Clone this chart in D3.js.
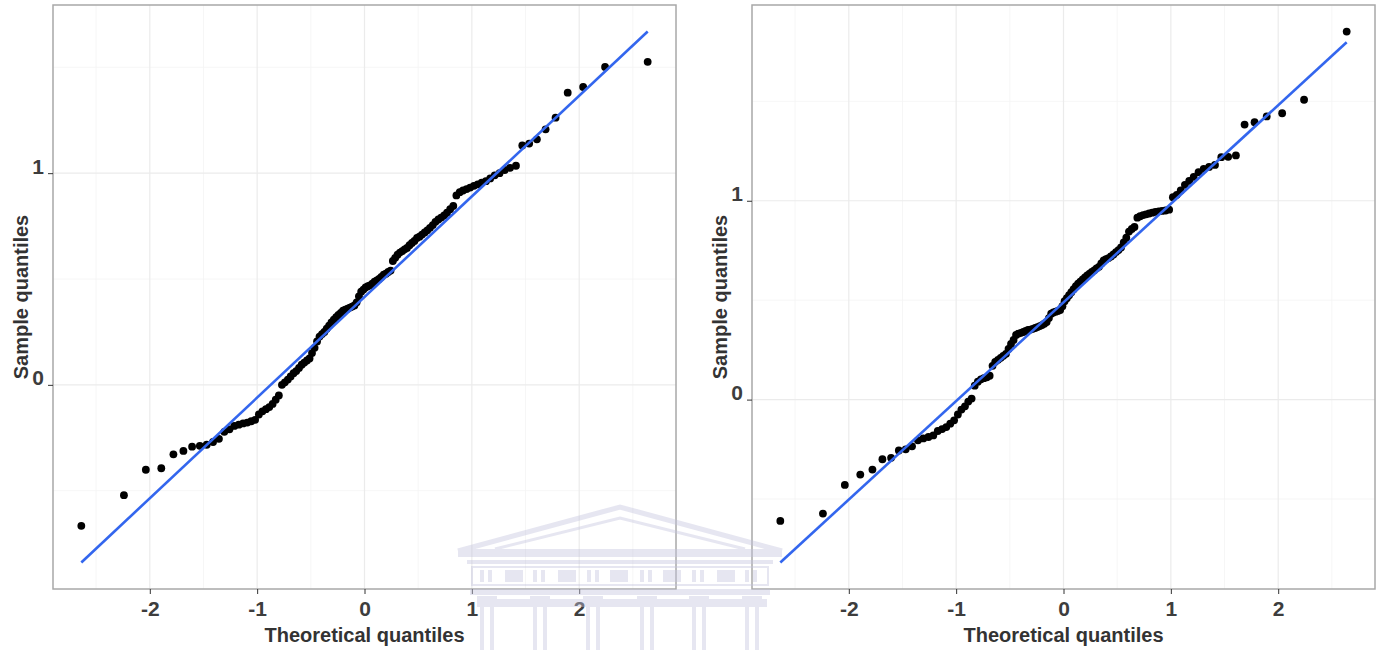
<!DOCTYPE html>
<html>
<head>
<meta charset="utf-8">
<script src="https://cdn.jsdelivr.net/npm/d3@7"></script>
<style>
  body { margin: 0; background: #fff; }
  svg { display: block; font-family: "Liberation Sans", Arial, sans-serif; }
  .axis-title { font-weight: bold; font-size: 20px; fill: #333; }
</style>
</head>
<body>
<svg id="qq" width="1385" height="650"></svg>
<script>
// theoretical normal quantiles, n = 120 (same for both panels)
const theoretical = [
  -2.638, -2.241, -2.037, -1.893, -1.780, -1.687, -1.606, -1.534, -1.470, -1.411,
  -1.356, -1.306, -1.258, -1.213, -1.171, -1.131, -1.092, -1.055, -1.019, -0.984,
  -0.951, -0.918, -0.887, -0.856, -0.827, -0.798, -0.769, -0.742, -0.714, -0.688,
  -0.661, -0.636, -0.610, -0.585, -0.561, -0.536, -0.512, -0.489, -0.465, -0.442,
  -0.419, -0.396, -0.374, -0.352, -0.330, -0.308, -0.286, -0.264, -0.243, -0.221,
  -0.200, -0.179, -0.157, -0.136, -0.115, -0.094, -0.073, -0.052, -0.031, -0.010,
  0.010, 0.031, 0.052, 0.073, 0.094, 0.115, 0.136, 0.157, 0.179, 0.200,
  0.221, 0.243, 0.264, 0.286, 0.308, 0.330, 0.352, 0.374, 0.396, 0.419,
  0.442, 0.465, 0.489, 0.512, 0.536, 0.561, 0.585, 0.610, 0.636, 0.661,
  0.688, 0.714, 0.742, 0.769, 0.798, 0.827, 0.856, 0.887, 0.918, 0.951,
  0.984, 1.019, 1.055, 1.092, 1.131, 1.171, 1.213, 1.258, 1.306, 1.356,
  1.411, 1.470, 1.534, 1.606, 1.687, 1.780, 1.893, 2.037, 2.241, 2.638
];

const sampleLeft = [
  -0.666, -0.521, -0.401, -0.394, -0.328, -0.312, -0.292, -0.288, -0.283, -0.270,
  -0.255, -0.222, -0.210, -0.194, -0.188, -0.182, -0.178, -0.172, -0.165, -0.140,
  -0.125, -0.115, -0.105, -0.090, -0.070, -0.050, 0.000, 0.012, 0.025, 0.040,
  0.055, 0.065, 0.080, 0.095, 0.105, 0.115, 0.125, 0.150, 0.175, 0.205,
  0.228, 0.240, 0.250, 0.265, 0.280, 0.295, 0.308, 0.320, 0.330, 0.340,
  0.350, 0.355, 0.360, 0.365, 0.370, 0.375, 0.390, 0.418, 0.440, 0.450,
  0.460, 0.466, 0.470, 0.478, 0.487, 0.493, 0.500, 0.510, 0.520, 0.525,
  0.533, 0.540, 0.585, 0.600, 0.615, 0.625, 0.632, 0.640, 0.647, 0.660,
  0.670, 0.680, 0.694, 0.700, 0.710, 0.720, 0.730, 0.742, 0.755, 0.770,
  0.781, 0.790, 0.800, 0.813, 0.830, 0.845, 0.895, 0.910, 0.918, 0.925,
  0.932, 0.940, 0.947, 0.955, 0.962, 0.975, 0.990, 1.000, 1.015, 1.025,
  1.035, 1.131, 1.140, 1.160, 1.207, 1.262, 1.380, 1.407, 1.502, 1.526
];

const sampleRight = [
  -0.610, -0.573, -0.429, -0.377, -0.352, -0.300, -0.293, -0.256, -0.250, -0.235,
  -0.205, -0.195, -0.188, -0.180, -0.158, -0.148, -0.138, -0.121, -0.104, -0.075,
  -0.050, -0.034, -0.010, 0.005, 0.070, 0.090, 0.102, 0.108, 0.112, 0.120,
  0.170, 0.190, 0.200, 0.210, 0.220, 0.230, 0.255, 0.280, 0.300, 0.325,
  0.332, 0.336, 0.340, 0.345, 0.350, 0.352, 0.356, 0.360, 0.365, 0.370,
  0.375, 0.382, 0.390, 0.410, 0.432, 0.438, 0.442, 0.446, 0.450, 0.470,
  0.495, 0.510, 0.525, 0.540, 0.555, 0.570, 0.583, 0.593, 0.605, 0.615,
  0.625, 0.633, 0.642, 0.650, 0.660, 0.668, 0.685, 0.700, 0.706, 0.712,
  0.720, 0.730, 0.742, 0.752, 0.765, 0.790, 0.814, 0.845, 0.858, 0.868,
  0.915, 0.922, 0.928, 0.932, 0.936, 0.940, 0.944, 0.947, 0.949, 0.951,
  0.955, 1.018, 1.030, 1.052, 1.080, 1.100, 1.120, 1.144, 1.160, 1.170,
  1.180, 1.219, 1.221, 1.228, 1.383, 1.395, 1.424, 1.440, 1.508, 1.851
];

// qq reference line, sample value at the two outer theoretical quantiles
const qqLineX = [-2.638, 2.638];
const qqLineLeft = [-0.839, 1.669];
const qqLineRight = [-0.819, 1.797];

const xTicks = [-2, -1, 0, 1, 2];
const xMinor = [-2.5, -1.5, -0.5, 0.5, 1.5, 2.5];
const yTicks = [0, 1];
const yMinor = [-0.5, 0.5, 1.5];

const svg = d3.select("#qq");
const panelTop = 5;
const panelW = 623;
const panelH = 584;

// ggplot style 5% padding
function expand(ext) {
    const pad = (ext[1] - ext[0]) * 0.05;
    return [ext[0] - pad, ext[1] + pad];
}

function styleAxis(a) {
    a.attr("font-size", 21).attr("font-family", "'Liberation Sans', Arial, sans-serif");
    a.select(".domain").remove();
    a.selectAll(".tick line").attr("stroke", "#333");
    a.selectAll(".tick text")
        .style("font-size", "21px")
        .style("font-weight", "bold")
        .style("fill", "#3d3d3d");
}

function drawPanel(left, sample, qqLine) {
    const bottom = panelTop + panelH;
    const x = d3.scaleLinear()
        .domain(expand(d3.extent(theoretical.concat(qqLineX))))
        .range([left, left + panelW]);
    const y = d3.scaleLinear()
        .domain(expand(d3.extent(sample.concat(qqLine))))
        .range([bottom, panelTop]);

    const g = svg.append("g");

    // grid
    g.selectAll(".xminor").data(xMinor).enter().append("line")
        .attr("x1", d => x(d)).attr("x2", d => x(d))
        .attr("y1", panelTop).attr("y2", bottom)
        .attr("stroke", "#f4f4f4").attr("stroke-width", 0.8);
    g.selectAll(".yminor").data(yMinor).enter().append("line")
        .attr("y1", d => y(d)).attr("y2", d => y(d))
        .attr("x1", left).attr("x2", left + panelW)
        .attr("stroke", "#f4f4f4").attr("stroke-width", 0.8);
    g.selectAll(".xmajor").data(xTicks).enter().append("line")
        .attr("x1", d => x(d)).attr("x2", d => x(d))
        .attr("y1", panelTop).attr("y2", bottom)
        .attr("stroke", "#ebebeb").attr("stroke-width", 1.2);
    g.selectAll(".ymajor").data(yTicks).enter().append("line")
        .attr("y1", d => y(d)).attr("y2", d => y(d))
        .attr("x1", left).attr("x2", left + panelW)
        .attr("stroke", "#ebebeb").attr("stroke-width", 1.2);

    // points
    g.selectAll(".pt").data(sample).enter().append("circle")
        .attr("class", "pt")
        .attr("cx", (d, i) => x(theoretical[i]))
        .attr("cy", d => y(d))
        .attr("r", 3.9)
        .attr("fill", "#000");

    // reference line on top of the points
    const line = d3.line().x(d => x(d[0])).y(d => y(d[1]));
    g.append("path")
        .datum(qqLineX.map((v, i) => [v, qqLine[i]]))
        .attr("d", line)
        .attr("fill", "none")
        .attr("stroke", "#3366ee")
        .attr("stroke-width", 2.6);

    g.append("rect")
        .attr("x", left).attr("y", panelTop)
        .attr("width", panelW).attr("height", panelH)
        .attr("fill", "none")
        .attr("stroke", "#a8a8a8")
        .attr("stroke-width", 1.5);

    g.append("g")
        .attr("transform", `translate(0,${bottom})`)
        .call(d3.axisBottom(x).tickValues(xTicks).tickSize(5).tickPadding(7).tickFormat(d => String(d)))
        .call(styleAxis);

    g.append("g")
        .attr("transform", `translate(${left},0)`)
        .call(d3.axisLeft(y).tickValues(yTicks).tickSize(5).tickPadding(4).tickFormat(d => String(d)))
        .call(styleAxis)
        .call(a => a.selectAll("text").attr("dy", "0em"));

    g.append("text")
        .attr("class", "axis-title")
        .attr("x", x(0))
        .attr("y", 642)
        .attr("text-anchor", "middle")
        .text("Theoretical quantiles");

    g.append("text")
        .attr("class", "axis-title")
        .attr("transform", `translate(${left - 25},${panelTop + panelH / 2}) rotate(-90)`)
        .attr("text-anchor", "middle")
        .text("Sample quantiles");
}

drawPanel(53, sampleLeft, qqLineLeft);
drawPanel(752, sampleRight, qqLineRight);

// faint building watermark over the bottom middle
const wm = svg.append("g")
    .attr("fill", "#c4c4de")
    .attr("stroke", "#c4c4de")
    .attr("opacity", 0.42);
wm.append("polyline").attr("points", "458,551 620,507 782,551")
    .attr("fill", "none").attr("stroke-width", 5);
wm.append("polyline").attr("points", "495,549 620,518 745,549")
    .attr("fill", "none").attr("stroke-width", 3);
wm.append("rect").attr("x", 458).attr("y", 549).attr("width", 324).attr("height", 8).attr("stroke", "none");
wm.append("rect").attr("x", 467).attr("y", 560).attr("width", 306).attr("height", 4).attr("stroke", "none");
wm.append("rect").attr("x", 472).attr("y", 567).attr("width", 296).attr("height", 18)
    .attr("fill", "none").attr("stroke-width", 2);
[480, 533, 587, 640, 692, 745].forEach(cx => {
    wm.append("rect").attr("x", cx).attr("y", 570).attr("width", 4).attr("height", 12).attr("stroke", "none");
    wm.append("rect").attr("x", cx + 8).attr("y", 570).attr("width", 4).attr("height", 12).attr("stroke", "none");
});
[505, 558, 610, 663, 717].forEach(cx => {
    wm.append("rect").attr("x", cx).attr("y", 570).attr("width", 18).attr("height", 12).attr("stroke", "none");
});
wm.append("rect").attr("x", 470).attr("y", 589).attr("width", 300).attr("height", 6).attr("stroke", "none");
wm.append("rect").attr("x", 477).attr("y", 599).attr("width", 290).attr("height", 8).attr("stroke", "none");
[487, 540, 593, 647, 699, 752].forEach(cx => {
    wm.append("rect").attr("x", cx - 10).attr("y", 596).attr("width", 20).attr("height", 4).attr("stroke", "none");
    wm.append("rect").attr("x", cx - 7).attr("y", 607).attr("width", 4).attr("height", 43).attr("stroke", "none");
    wm.append("rect").attr("x", cx + 3).attr("y", 607).attr("width", 4).attr("height", 43).attr("stroke", "none");
});
</script>
</body>
</html>
